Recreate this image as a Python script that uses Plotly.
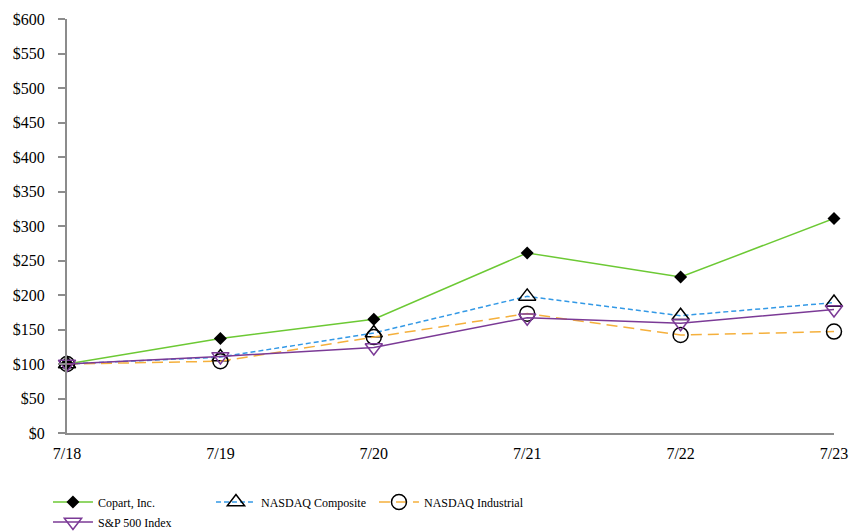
import plotly.graph_objects as go

periods = ["7/18", "7/19", "7/20", "7/21", "7/22", "7/23"]
copart = [100, 137, 165, 261, 226, 311]
nasdaq_composite = [100, 110, 145, 198, 170, 189]
nasdaq_industrial = [100, 104, 139, 173, 142, 147]
sp500 = [100, 111, 124, 167, 159, 179]
y_ticks = list(range(0, 601, 50))
y_labels = [f"${v}" for v in y_ticks]

FONT = "Liberation Serif, Times New Roman, serif"

fig = go.Figure()
fig.add_trace(go.Scatter(
    x=periods, y=copart, name="Copart, Inc.", mode="lines+markers",
    line=dict(color="#6cc934", width=1.5), cliponaxis=False,
    marker=dict(symbol="diamond", color="black", size=10),
    legend="legend"))
fig.add_trace(go.Scatter(
    x=periods, y=nasdaq_composite, name="NASDAQ Composite", mode="lines+markers",
    line=dict(color="#3399e6", width=1.5, dash="5px,3px"), cliponaxis=False,
    marker=dict(symbol="triangle-up-open", color="black", size=15, line=dict(width=1.5)),
    legend="legend"))
fig.add_trace(go.Scatter(
    x=periods, y=nasdaq_industrial, name="NASDAQ Industrial", mode="lines+markers",
    line=dict(color="#f5b03c", width=1.5, dash="11px,6px"), cliponaxis=False,
    marker=dict(symbol="circle-open", color="black", size=15, line=dict(width=1.5)),
    legend="legend"))
fig.add_trace(go.Scatter(
    x=periods, y=sp500, name="S&P 500 Index", mode="lines+markers",
    line=dict(color="#7b3a96", width=1.5), cliponaxis=False,
    marker=dict(symbol="triangle-down-open", color="#7b3a96", size=15, line=dict(width=1.5)),
    legend="legend2"))

axis_color = "#8c8c8c"
fig.update_layout(
    width=852, height=531,
    margin=dict(l=67, r=18, t=19, b=98, autoexpand=False),
    paper_bgcolor="white", plot_bgcolor="white",
    font=dict(family=FONT, size=16, color="black"),
    xaxis=dict(type="category", range=[0, 5], showgrid=False, showline=True,
               linecolor=axis_color, linewidth=2, ticks="", tickfont=dict(size=16),
               ticklabelstandoff=5, zeroline=False, automargin=False),
    yaxis=dict(range=[0, 600], tickvals=y_ticks, ticktext=y_labels, showgrid=False,
               showline=True, linecolor=axis_color, linewidth=2, ticks="outside",
               ticklen=7, tickcolor=axis_color, tickwidth=2, zeroline=False,
               ticklabelstandoff=10, tickfont=dict(size=16), automargin=False),
    legend=dict(orientation="h", xref="container", yref="container",
                x=0.0563, xanchor="left", y=0.0819, yanchor="top",
                entrywidth=108, itemwidth=40, font=dict(size=12), tracegroupgap=0,
                bgcolor="rgba(0,0,0,0)"),
    legend2=dict(orientation="h", xref="container", yref="container",
                 x=0.0563, xanchor="left", y=0.0443, yanchor="top",
                 itemwidth=40, font=dict(size=12), bgcolor="rgba(0,0,0,0)"),
    showlegend=True,
)

fig.write_html("out.html", config={"displayModeBar": False},
               post_script="document.body.style.margin='0';document.body.style.overflow='hidden';")
